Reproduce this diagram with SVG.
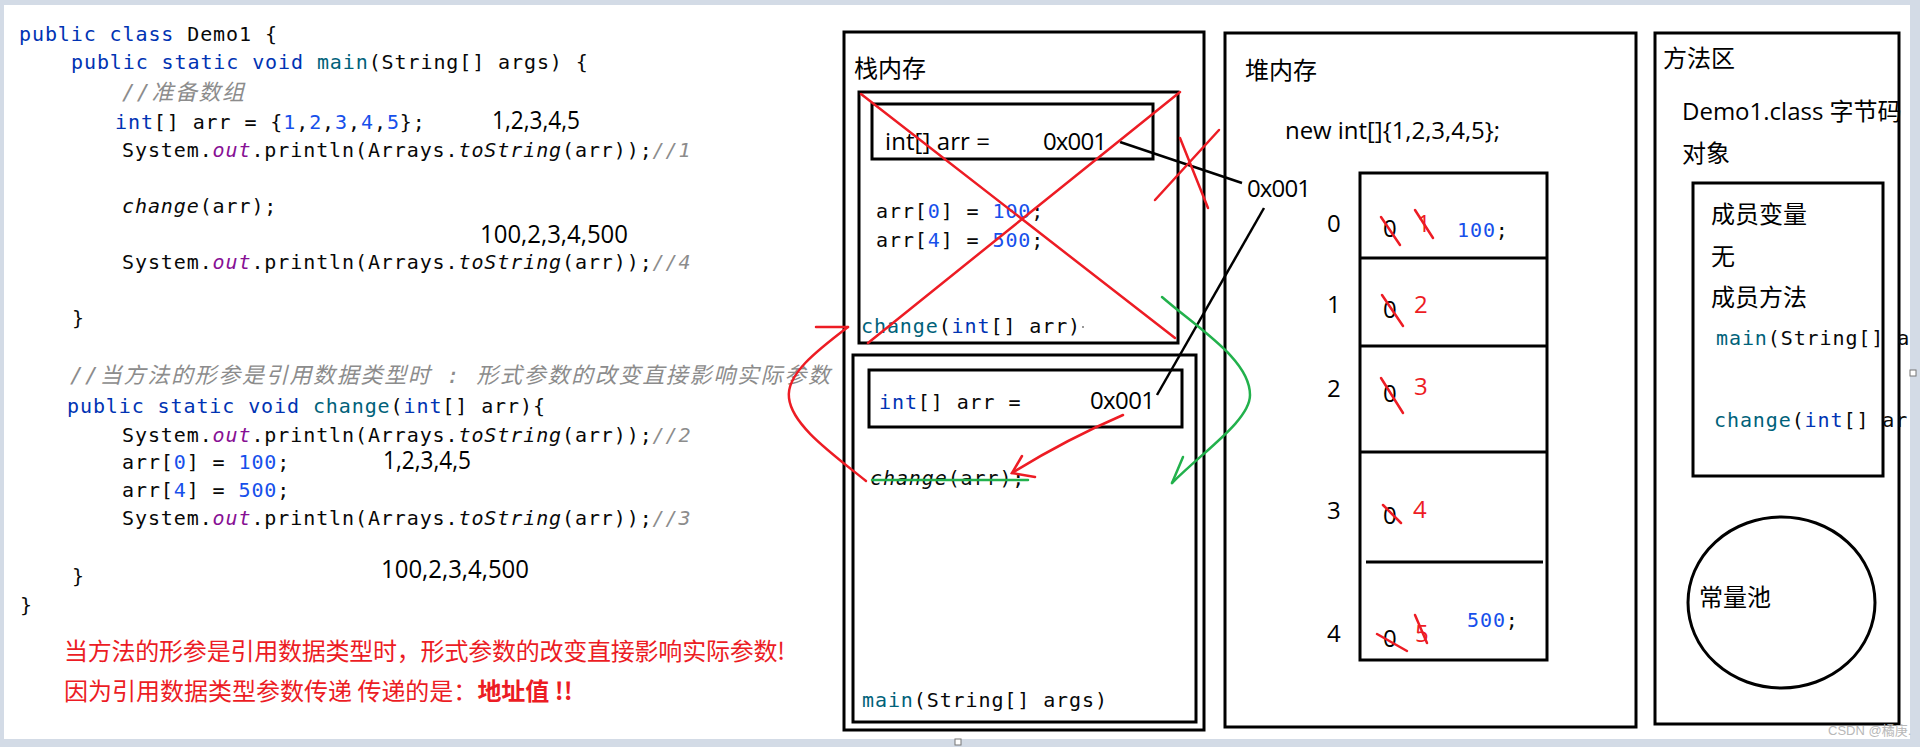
<svg xmlns="http://www.w3.org/2000/svg" width="1920" height="747" viewBox="0 0 1920 747">
<style>
.code{font-family:"DejaVu Sans Mono","Noto Sans CJK SC",monospace;font-size:20px;letter-spacing:0.9px;fill:#080808}
.kw{fill:#0033b3}
.md{fill:#00627a}
.num{fill:#1750eb}
.fld{fill:#871094;font-style:italic}
.it{font-style:italic}
.cm{fill:#8c8c8c;font-style:italic}
.cmz{font-size:22px;letter-spacing:0}
.txt{font-family:"Open Sans","Noto Sans CJK SC",sans-serif;font-size:24px;fill:#000}
.ann{font-family:"Open Sans","Noto Sans CJK SC",sans-serif;font-size:25px;fill:#000}
.rd{fill:#ed1c24}
.note{font-family:"Noto Sans CJK SC",sans-serif;font-size:24px;fill:#ec1c24}
.box{fill:none;stroke:#000;stroke-width:3}
.sep{stroke:#000;stroke-width:3}
.rl{stroke:#ed1c24;stroke-width:2.5;fill:none;stroke-linecap:round}
.gl{stroke:#22b14c;stroke-width:2.5;fill:none;stroke-linecap:round}
.bl{stroke:#000;stroke-width:2.5;fill:none}
</style>
<defs>
<clipPath id="page"><rect x="0" y="0" width="1910" height="740"/></clipPath>
</defs>
<rect x="0" y="0" width="1920" height="747" fill="#d3dbe6"/>
<rect x="4" y="5" width="1906" height="734" fill="#ffffff"/>
<rect x="955" y="739" width="6" height="6" fill="#fff" stroke="#777" stroke-width="1"/>
<rect x="1910" y="370" width="6" height="6" fill="#fff" stroke="#777" stroke-width="1"/>

<g id="code">
<text class="code" x="19" y="41" xml:space="preserve"><tspan class="kw">public class</tspan> Demo1 {</text>
<text class="code" x="71" y="69" xml:space="preserve"><tspan class="kw">public static void</tspan> <tspan class="md">main</tspan>(String[] args) {</text>
<text class="code cm cmz" x="122" y="100" textLength="122" xml:space="preserve">//准备数组</text>
<text class="code" x="115" y="129" xml:space="preserve"><tspan class="kw">int</tspan>[] arr = {<tspan class="num">1</tspan>,<tspan class="num">2</tspan>,<tspan class="num">3</tspan>,<tspan class="num">4</tspan>,<tspan class="num">5</tspan>};</text>
<text class="code" x="122" y="157" xml:space="preserve">System.<tspan class="fld">out</tspan>.println(Arrays.<tspan class="it">toString</tspan>(arr));<tspan class="cm">//1</tspan></text>
<text class="code" x="122" y="213" xml:space="preserve"><tspan class="it">change</tspan>(arr);</text>
<text class="code" x="122" y="269" xml:space="preserve">System.<tspan class="fld">out</tspan>.println(Arrays.<tspan class="it">toString</tspan>(arr));<tspan class="cm">//4</tspan></text>
<text class="code" x="72" y="325">}</text>
<text class="code cm cmz" x="70" y="383" textLength="760" xml:space="preserve">//当方法的形参是引用数据类型时 : 形式参数的改变直接影响实际参数</text>
<text class="code" x="67" y="413" xml:space="preserve"><tspan class="kw">public static void</tspan> <tspan class="md">change</tspan>(<tspan class="kw">int</tspan>[] arr){</text>
<text class="code" x="122" y="442" xml:space="preserve">System.<tspan class="fld">out</tspan>.println(Arrays.<tspan class="it">toString</tspan>(arr));<tspan class="cm">//2</tspan></text>
<text class="code" x="122" y="469" xml:space="preserve">arr[<tspan class="num">0</tspan>] = <tspan class="num">100</tspan>;</text>
<text class="code" x="122" y="497" xml:space="preserve">arr[<tspan class="num">4</tspan>] = <tspan class="num">500</tspan>;</text>
<text class="code" x="122" y="525" xml:space="preserve">System.<tspan class="fld">out</tspan>.println(Arrays.<tspan class="it">toString</tspan>(arr));<tspan class="cm">//3</tspan></text>
<text class="code" x="72" y="583">}</text>
<text class="code" x="20" y="612">}</text>
<text class="ann" x="492" y="129" textLength="88" lengthAdjust="spacingAndGlyphs">1,2,3,4,5</text>
<text class="ann" x="480" y="243" textLength="148" lengthAdjust="spacingAndGlyphs">100,2,3,4,500</text>
<text class="ann" x="383" y="469" textLength="88" lengthAdjust="spacingAndGlyphs">1,2,3,4,5</text>
<text class="ann" x="381" y="578" textLength="148" lengthAdjust="spacingAndGlyphs">100,2,3,4,500</text>
</g>

<g id="note">
<text class="note" x="64" y="660" textLength="721">当方法的形参是引用数据类型时，形式参数的改变直接影响实际参数!</text>
<text class="note" x="64" y="700" xml:space="preserve">因为引用数据类型参数传递 传递的是：<tspan font-weight="bold">地址值 !!</tspan></text>
</g>

<g id="stack">
<rect class="box" x="844" y="32" width="360" height="698"/>
<text class="txt" x="854" y="77">栈内存</text>
</g>
<g id="frame-change">
<rect class="box" x="859" y="92" width="319" height="251"/>
<rect class="box" x="872" y="104" width="281" height="55"/>
<text class="txt" x="885" y="150" textLength="105" xml:space="preserve">int[] arr =</text>
<text class="txt" x="1043" y="150" textLength="64">0x001</text>
<text class="code" x="876" y="218" xml:space="preserve">arr[<tspan class="num">0</tspan>] = <tspan class="num">100</tspan>;</text>
<text class="code" x="876" y="247" xml:space="preserve">arr[<tspan class="num">4</tspan>] = <tspan class="num">500</tspan>;</text>
<text class="code" x="861" y="333" xml:space="preserve"><tspan class="md">change</tspan>(<tspan class="kw">int</tspan>[] arr)</text>
<circle cx="1083" cy="327" r="1" fill="#777"/>
</g>
<g id="frame-main">
<rect class="box" x="853" y="355" width="343" height="367"/>
<rect class="box" x="869" y="370" width="313" height="57"/>
<text class="code" x="879" y="409" xml:space="preserve"><tspan class="kw">int</tspan>[] arr =</text>
<text class="txt" x="1090" y="409" textLength="65">0x001</text>
<text class="code" x="870" y="485" xml:space="preserve"><tspan class="it">change</tspan>(arr);</text>
<text class="code" x="862" y="707" xml:space="preserve"><tspan class="md">main</tspan>(String[] args)</text>
</g>

<g id="heap">
<rect class="box" x="1225" y="33" width="411" height="694"/>
<text class="txt" x="1245" y="79">堆内存</text>
<text class="txt" x="1285" y="139" textLength="215">new int[]{1,2,3,4,5};</text>
<text class="txt" x="1247" y="197" textLength="64">0x001</text>
</g>
<g id="array">
<rect class="box" x="1360" y="173" width="187" height="487"/>
<line class="sep" x1="1360" y1="258" x2="1547" y2="258"/>
<line class="sep" x1="1360" y1="346" x2="1547" y2="346"/>
<line class="sep" x1="1360" y1="452" x2="1547" y2="452"/>
<line class="sep" x1="1366" y1="562" x2="1543" y2="562"/>
<text class="txt" x="1327" y="232">0</text>
<text class="txt" x="1327" y="313">1</text>
<text class="txt" x="1327" y="397">2</text>
<text class="txt" x="1327" y="519">3</text>
<text class="txt" x="1327" y="642">4</text>
<text class="txt" x="1383" y="237">0</text>
<text class="txt" x="1383" y="318">0</text>
<text class="txt" x="1383" y="402">0</text>
<text class="txt" x="1383" y="524">0</text>
<text class="txt" x="1383" y="647">0</text>
<text class="txt rd" x="1417" y="232">1</text>
<text class="txt rd" x="1414" y="313">2</text>
<text class="txt rd" x="1414" y="395">3</text>
<text class="txt rd" x="1413" y="518">4</text>
<text class="txt rd" x="1415" y="642">5</text>
<text class="code" x="1457" y="237"><tspan class="num">100</tspan>;</text>
<text class="code" x="1467" y="627"><tspan class="num">500</tspan>;</text>
<line class="rl" x1="1381" y1="217" x2="1400" y2="245"/>
<line class="rl" x1="1415" y1="210" x2="1433" y2="238"/>
<line class="rl" x1="1382" y1="295" x2="1403" y2="326"/>
<line class="rl" x1="1381" y1="378" x2="1403" y2="413"/>
<line class="rl" x1="1383" y1="505" x2="1401" y2="523"/>
<line class="rl" x1="1377" y1="634" x2="1407" y2="651"/>
<line class="rl" x1="1415" y1="615" x2="1427" y2="643"/>
</g>

<g id="method-area">
<rect class="box" x="1655" y="33" width="244" height="691"/>
<text class="txt" x="1663" y="67">方法区</text>
<text class="txt" x="1682" y="120" xml:space="preserve">Demo1.class 字节码</text>
<text class="txt" x="1682" y="162">对象</text>
</g>
<g id="class-object" clip-path="url(#page)">
<rect class="box" x="1693" y="183" width="190" height="293"/>
<text class="txt" x="1711" y="223">成员变量</text>
<text class="txt" x="1711" y="265">无</text>
<text class="txt" x="1711" y="306">成员方法</text>
<text class="code" x="1716" y="345" xml:space="preserve"><tspan class="md">main</tspan>(String[] args)</text>
<text class="code" x="1714" y="427" xml:space="preserve"><tspan class="md">change</tspan>(<tspan class="kw">int</tspan>[] arr)</text>
</g>
<g id="constant-pool">
<ellipse cx="1781.5" cy="602.5" rx="93.5" ry="85.5" fill="none" stroke="#000" stroke-width="3"/>
<text class="txt" x="1699" y="606">常量池</text>
</g>

<g id="connectors">
<line class="bl" x1="1120" y1="142" x2="1242" y2="183"/>
<line class="bl" x1="1157" y1="395" x2="1264" y2="208"/>
<line class="rl" x1="861" y1="94" x2="1175" y2="338"/>
<line class="rl" x1="1180" y1="92" x2="868" y2="343"/>
<line class="rl" x1="1155" y1="200" x2="1219" y2="130"/>
<line class="rl" x1="1180" y1="138" x2="1208" y2="208"/>
<path class="rl" d="M1123,415 Q1065,440 1012,473"/>
<path class="rl" d="M1022,456 L1012,473 L1035,477"/>
<path class="rl" d="M848,327 C815,352 786,375 789,398 C792,425 830,452 866,481"/>
<line class="rl" x1="816" y1="327" x2="848" y2="327"/>
<line class="gl" x1="872" y1="480" x2="1028" y2="480"/>
<path class="gl" d="M1162,297 C1200,330 1250,360 1250,395 C1250,420 1205,450 1172,483"/>
<line class="gl" x1="1172" y1="483" x2="1183" y2="457"/>
</g>

<text x="1828" y="735" font-family="'Liberation Sans','Noto Sans CJK SC',sans-serif" font-size="13" fill="#b8b8b8">CSDN @橘庚.</text>
</svg>
